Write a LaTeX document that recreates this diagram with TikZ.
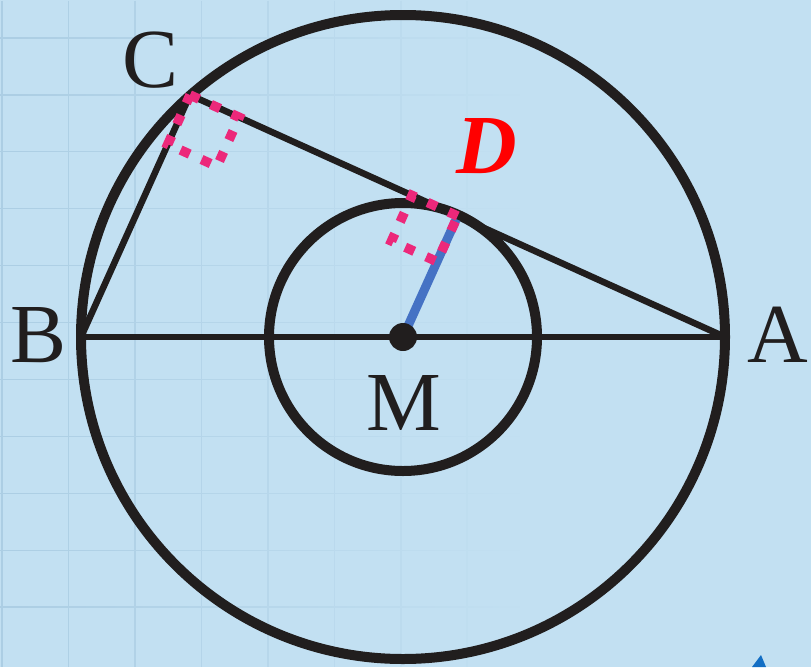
\documentclass[tikz,border=0pt]{standalone}
\usepackage{fontspec}
\setmainfont{Liberation Serif}
\usetikzlibrary{calc,fadings}
\definecolor{bgc}{RGB}{194,224,242}
\definecolor{gridc}{RGB}{172,206,228}
\definecolor{inkc}{RGB}{33,30,30}
\definecolor{pinkc}{RGB}{236,40,122}
\definecolor{bluec}{RGB}{69,114,196}
\definecolor{artc}{RGB}{18,110,196}
\tikzset{
  bigline/.style={draw=inkc, line width=10pt},
  segline/.style={draw=inkc, line width=6.5pt},
  radline/.style={draw=bluec, line width=9pt},
  rightmark/.style={draw=pinkc, line width=9.5pt, dash pattern=on 10pt off 13pt},
  lbl/.style={inner sep=0pt, anchor=base, text=inkc, font=\fontsize{84}{90}\selectfont},
}
\begin{document}
\begin{tikzpicture}[x=1pt,y=-1pt]
\fill[bgc] (0,0) rectangle (811,667);
\useasboundingbox (0,0) rectangle (811,667);
% faint grid
\path[draw=gridc, line width=1.6pt, path fading=east]
  \foreach \gx in {2,68.5,135,201.5,268,334.5,401,467.5} {(\gx,0) -- (\gx,667)}
  \foreach \gy in {37,94,151,208,265,322,379,436,493,550,607} {(0,\gy) -- (520,\gy)};
% points
\coordinate (M) at (403,337);
\coordinate (A) at (725,337);
\coordinate (B) at (81,337);
\coordinate (C) at (190,95);
\coordinate (D) at ($(C)!(M)!(A)$);
% circles
\draw[bigline] (M) circle[radius=322];
\draw[bigline] (M) circle[radius=134];
% radius MD
\draw[radline] (M) -- (D);
% segments
\draw[segline] (B) -- (A);
\draw[segline] (B) -- (C);
\draw[segline] (C) -- (A);
% right-angle marks
\coordinate (Ca) at ($(C)!54pt!(A)$);
\coordinate (Cb) at ($(C)!54pt!(B)$);
\coordinate (Cab) at ($(Ca)+(Cb)-(C)$);
\draw[rightmark] (C) -- (Ca) -- (Cab) -- (Cb) -- cycle;
\coordinate (Dc) at ($(D)!50pt!(C)$);
\coordinate (Dm) at ($(D)!50pt!90:(C)$);
\coordinate (Dcm) at ($(Dc)+(Dm)-(D)$);
\draw[rightmark] (D) -- (Dc) -- (Dcm) -- (Dm) -- cycle;
% centre dot
\fill[inkc] (M) circle[radius=14];
% labels
\node[lbl] (lC) at (151,87) {C};
\node[lbl] (lB) at (39,362) {B};
\node[lbl] (lA) at (778,362) {A};
\node[lbl] (lM) at (404,430) {M};
\node[lbl, text=red, font=\fontsize{84}{90}\selectfont\bfseries\itshape] (lD) at (487,173) {D};
% corner artefact
\fill[artc] (752,667) -- (761,655) -- (766,667) -- cycle;
\end{tikzpicture}
\end{document}
